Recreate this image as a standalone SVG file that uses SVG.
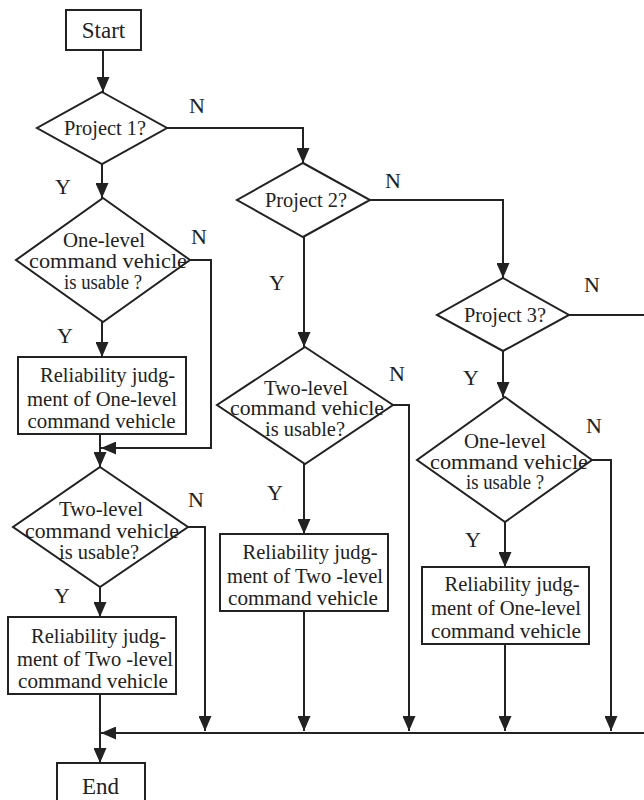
<svg xmlns="http://www.w3.org/2000/svg" width="644" height="800" viewBox="0 0 644 800">
<defs>
<style>
.shape{fill:#fff;stroke:#222;stroke-width:2}
.ln{fill:none;stroke:#222;stroke-width:2}
text{font-family:'Liberation Serif','Times New Roman','DejaVu Serif',serif;fill:#222;text-anchor:middle}
.tt{font-size:23px}
.td{font-size:20px}
.tb{font-size:20.5px}
.lb{font-size:22px}
</style>
<marker id="ah" markerUnits="userSpaceOnUse" markerWidth="15" markerHeight="13" refX="15" refY="6.5" orient="auto">
<path d="M0,0 L15,6.5 L0,13 z" fill="#222"/>
</marker>
</defs>
<rect width="644" height="800" fill="#fff"/>

<g id="connectors" font-family="Liberation Serif, serif">
<path class="ln" d="M103,50 V92" marker-end="url(#ah)"/>
<path class="ln" d="M167,128 H303 V163" marker-end="url(#ah)"/>
<path class="ln" d="M102,164 V198" marker-end="url(#ah)"/>
<path class="ln" d="M190,260 H211 V448 H101" marker-end="url(#ah)"/>
<path class="ln" d="M102,322 V357" marker-end="url(#ah)"/>
<path class="ln" d="M100,434 V467" marker-end="url(#ah)"/>
<path class="ln" d="M188,527 H205 V731" marker-end="url(#ah)"/>
<path class="ln" d="M100,587 V617" marker-end="url(#ah)"/>
<path class="ln" d="M100,694 V763" marker-end="url(#ah)"/>
<path class="ln" d="M370,200 H503 V278" marker-end="url(#ah)"/>
<path class="ln" d="M304,237 V347" marker-end="url(#ah)"/>
<path class="ln" d="M393,405 H409 V731" marker-end="url(#ah)"/>
<path class="ln" d="M304,464 V534" marker-end="url(#ah)"/>
<path class="ln" d="M304,611 V731" marker-end="url(#ah)"/>
<path class="ln" d="M569,315 H644"/>
<path class="ln" d="M503,351 V397" marker-end="url(#ah)"/>
<path class="ln" d="M592,460 H611 V731" marker-end="url(#ah)"/>
<path class="ln" d="M505,522 V567" marker-end="url(#ah)"/>
<path class="ln" d="M505,644 V731" marker-end="url(#ah)"/>
<path class="ln" d="M644,733 H101" marker-end="url(#ah)"/>
<text class="lb" x="197" y="113">N</text>
<text class="lb" x="63" y="194">Y</text>
<text class="lb" x="199" y="244">N</text>
<text class="lb" x="65" y="343">Y</text>
<text class="lb" x="196" y="507">N</text>
<text class="lb" x="62" y="603">Y</text>
<text class="lb" x="393" y="188">N</text>
<text class="lb" x="277" y="290">Y</text>
<text class="lb" x="397" y="381">N</text>
<text class="lb" x="275" y="500">Y</text>
<text class="lb" x="592" y="292">N</text>
<text class="lb" x="471" y="385">Y</text>
<text class="lb" x="594" y="433">N</text>
<text class="lb" x="473" y="547">Y</text>
</g>

<g id="start">
<rect class="shape" x="66" y="10" width="75" height="40"/>
<text class="tt" x="103.5" y="38">Start</text>
</g>

<g id="project1">
<polygon class="shape" points="102,92 167,128 102,164 37,128"/>
<text class="td" x="105" y="135" textLength="82" lengthAdjust="spacingAndGlyphs">Project 1?</text>
</g>

<g id="onelevel1">
<polygon class="shape" points="103,198 190,260 103,322 16,260"/>
<text class="td" x="104" y="247" textLength="82" lengthAdjust="spacingAndGlyphs">One-level</text>
<text class="td" x="108" y="268" textLength="158" lengthAdjust="spacingAndGlyphs">command vehicle</text>
<text class="td" x="103" y="289" textLength="78" lengthAdjust="spacingAndGlyphs">is usable ?</text>
</g>

<g id="rel1">
<rect class="shape" x="18" y="357" width="168" height="77"/>
<text class="tb" x="107.5" y="382" textLength="135" lengthAdjust="spacingAndGlyphs">Reliability judg-</text>
<text class="tb" x="102" y="406" textLength="150" lengthAdjust="spacingAndGlyphs">ment of One-level</text>
<text class="tb" x="101.5" y="428" textLength="148" lengthAdjust="spacingAndGlyphs">command vehicle</text>
</g>

<g id="twolevel1">
<polygon class="shape" points="100,467 188,527 100,587 13,527"/>
<text class="td" x="101" y="516" textLength="84" lengthAdjust="spacingAndGlyphs">Two-level</text>
<text class="td" x="102" y="538" textLength="154" lengthAdjust="spacingAndGlyphs">command vehicle</text>
<text class="td" x="99" y="559" textLength="80" lengthAdjust="spacingAndGlyphs">is usable?</text>
</g>

<g id="rel2">
<rect class="shape" x="8" y="617" width="168" height="77"/>
<text class="tb" x="98.5" y="643" textLength="135" lengthAdjust="spacingAndGlyphs">Reliability judg-</text>
<text class="tb" x="95" y="666" textLength="156" lengthAdjust="spacingAndGlyphs">ment of Two -level</text>
<text class="tb" x="93" y="688" textLength="150" lengthAdjust="spacingAndGlyphs">command vehicle</text>
</g>

<g id="end">
<rect class="shape" x="57" y="763" width="88" height="45"/>
<text class="tt" x="100.5" y="794">End</text>
</g>

<g id="project2">
<polygon class="shape" points="303,163 370,200 303,237 237,200"/>
<text class="td" x="306" y="207" textLength="82" lengthAdjust="spacingAndGlyphs">Project 2?</text>
</g>

<g id="twolevel2">
<polygon class="shape" points="305,347 393,405 305,464 217,405"/>
<text class="td" x="306" y="395" textLength="84" lengthAdjust="spacingAndGlyphs">Two-level</text>
<text class="td" x="307" y="415" textLength="154" lengthAdjust="spacingAndGlyphs">command vehicle</text>
<text class="td" x="305" y="436" textLength="80" lengthAdjust="spacingAndGlyphs">is usable?</text>
</g>

<g id="rel3">
<rect class="shape" x="220" y="534" width="168" height="77"/>
<text class="tb" x="310" y="559" textLength="135" lengthAdjust="spacingAndGlyphs">Reliability judg-</text>
<text class="tb" x="305" y="583" textLength="156" lengthAdjust="spacingAndGlyphs">ment of Two -level</text>
<text class="tb" x="303" y="605" textLength="150" lengthAdjust="spacingAndGlyphs">command vehicle</text>
</g>

<g id="project3">
<polygon class="shape" points="503,278 569,315 503,351 437,315"/>
<text class="td" x="505" y="322" textLength="82" lengthAdjust="spacingAndGlyphs">Project 3?</text>
</g>

<g id="onelevel2">
<polygon class="shape" points="505,397 592,460 505,522 417,460"/>
<text class="td" x="505" y="448" textLength="82" lengthAdjust="spacingAndGlyphs">One-level</text>
<text class="td" x="509" y="469" textLength="158" lengthAdjust="spacingAndGlyphs">command vehicle</text>
<text class="td" x="505" y="489" textLength="78" lengthAdjust="spacingAndGlyphs">is usable ?</text>
</g>

<g id="rel4">
<rect class="shape" x="422" y="567" width="167" height="77"/>
<text class="tb" x="512" y="591" textLength="135" lengthAdjust="spacingAndGlyphs">Reliability judg-</text>
<text class="tb" x="506" y="615" textLength="150" lengthAdjust="spacingAndGlyphs">ment of One-level</text>
<text class="tb" x="506" y="638" textLength="150" lengthAdjust="spacingAndGlyphs">command vehicle</text>
</g>
</svg>
